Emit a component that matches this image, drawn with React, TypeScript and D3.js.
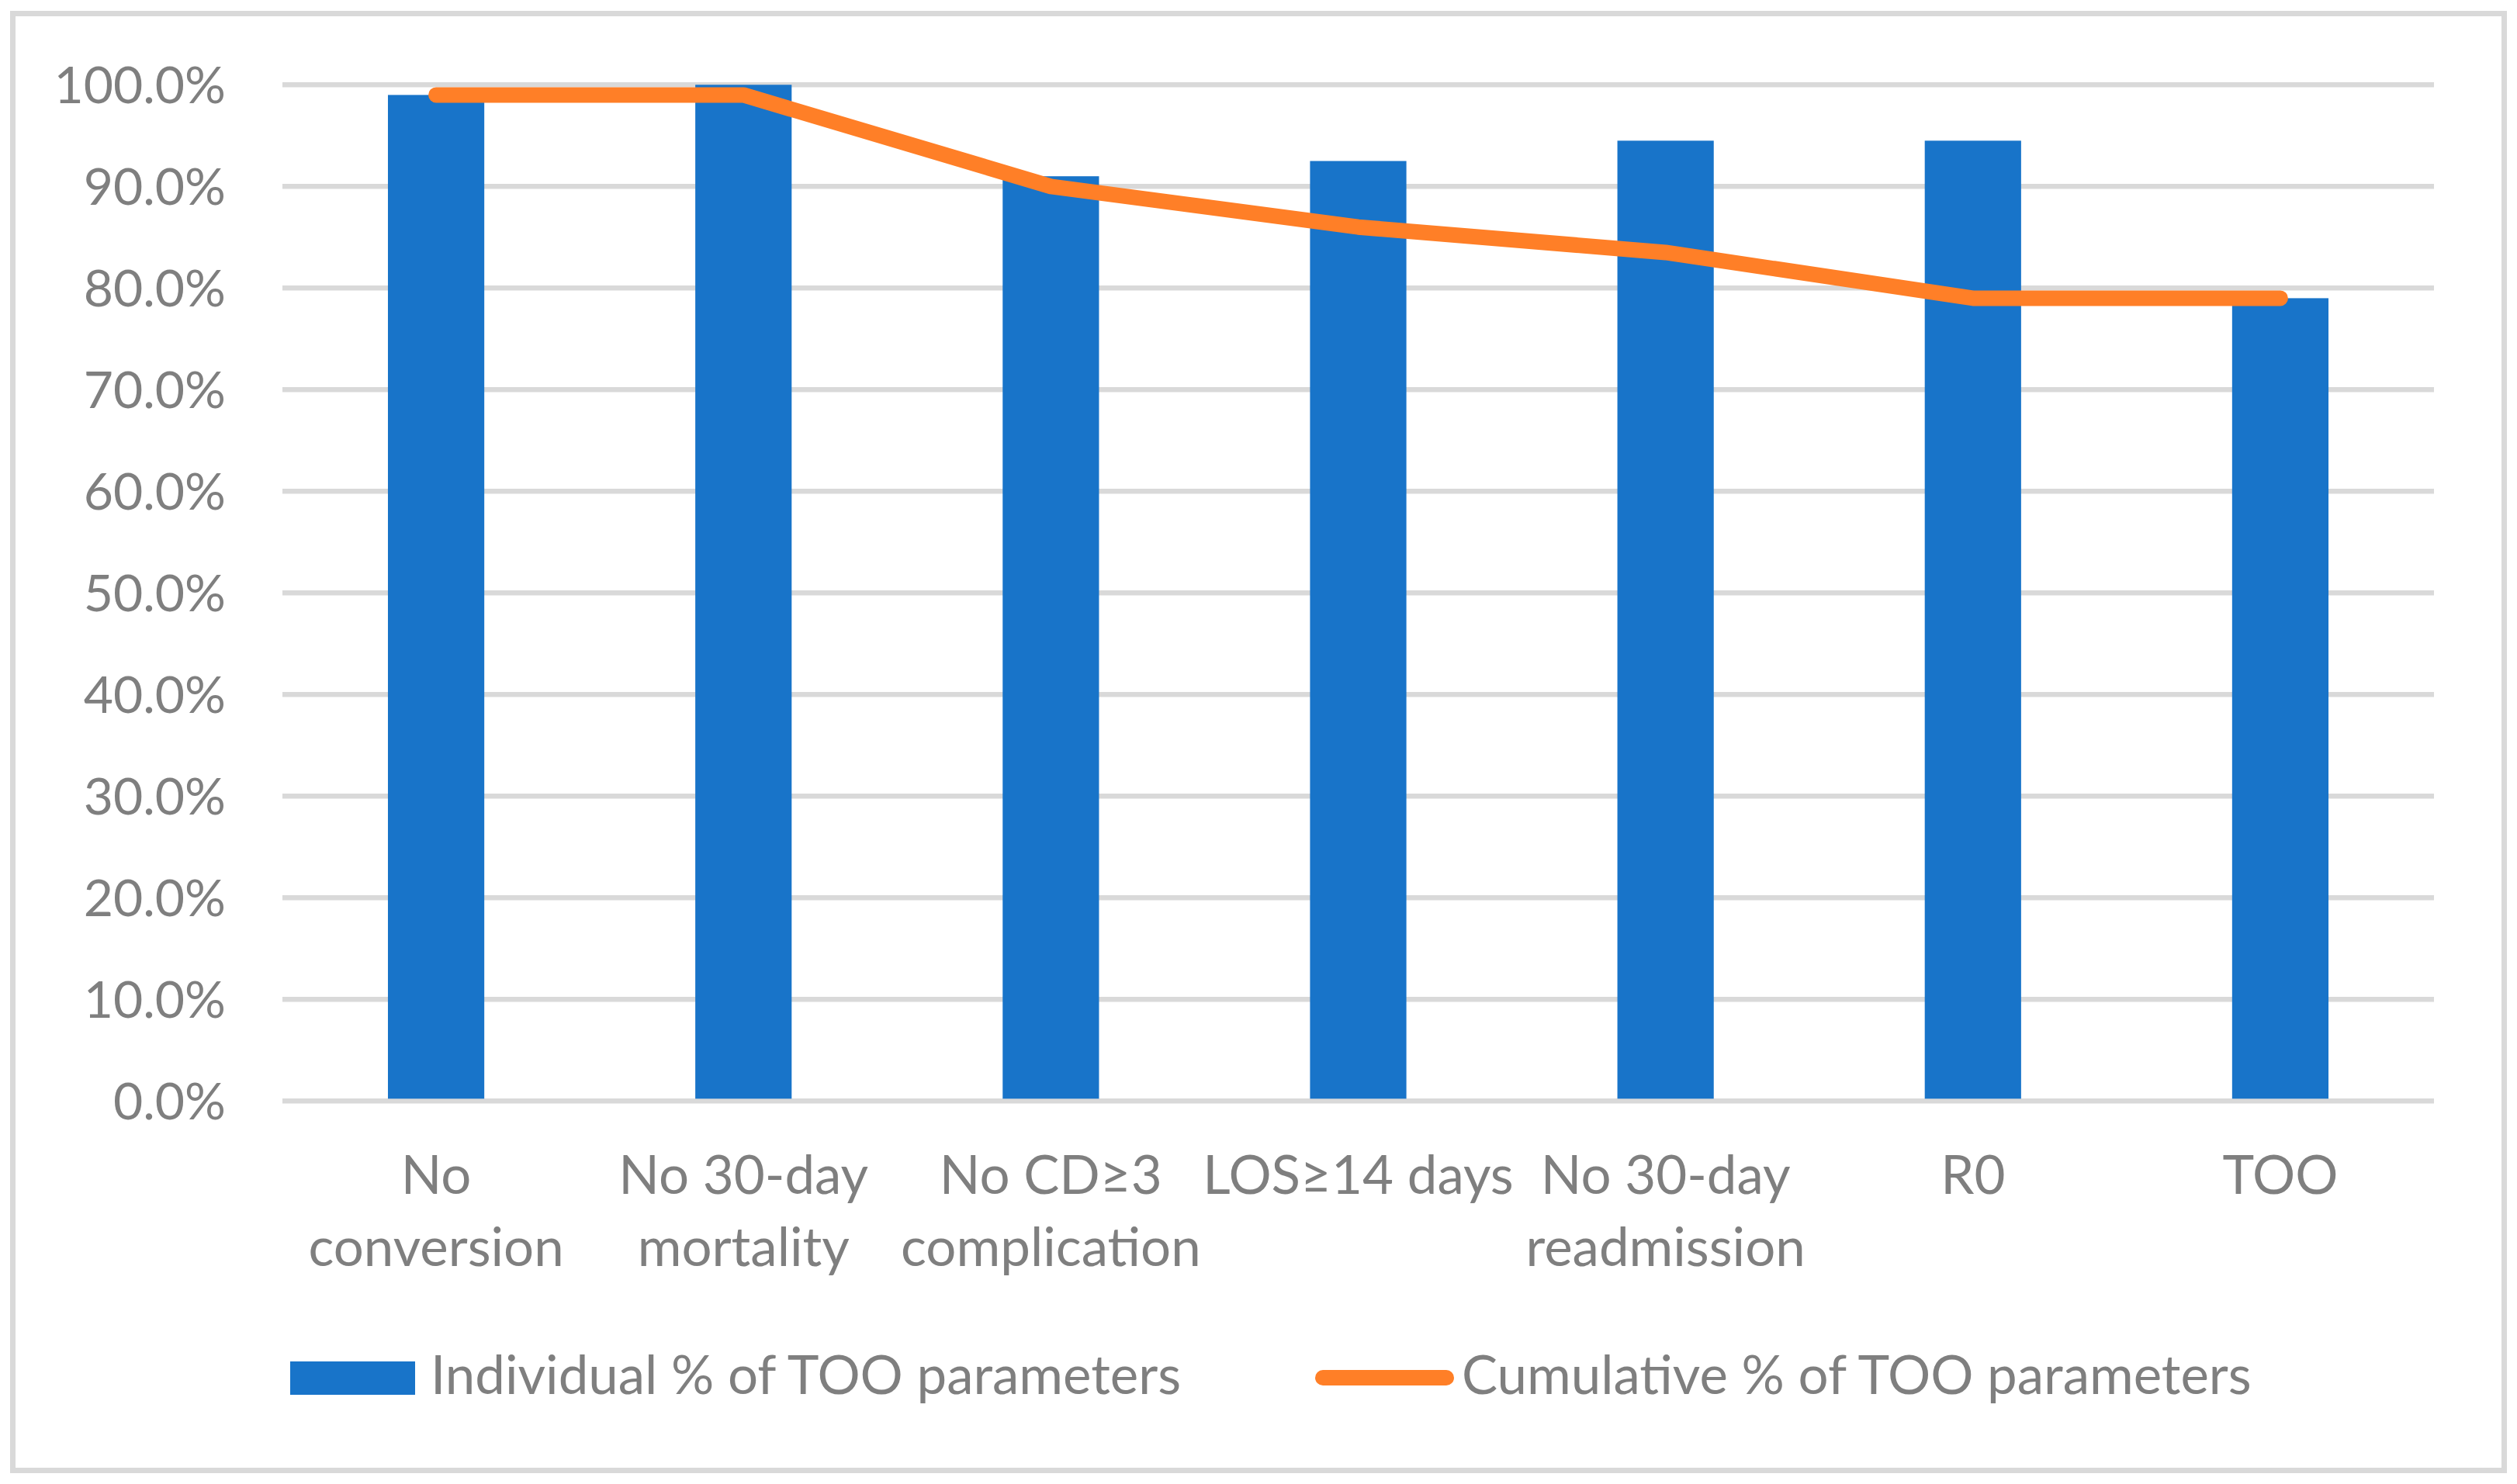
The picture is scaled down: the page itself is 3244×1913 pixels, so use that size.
import React from "react";
import * as d3 from "d3";

const categories = [
  "No conversion",
  "No 30-day mortality",
  "No CD≥3 complication",
  "LOS≥14 days",
  "No 30-day readmission",
  "R0",
  "TOO",
];
const categoryLines = [
  ["No", "conversion"],
  ["No 30-day", "mortality"],
  ["No CD≥3", "complication"],
  ["LOS≥14 days"],
  ["No 30-day", "readmission"],
  ["R0"],
  ["TOO"],
];
const individualPct = [99.0, 100.0, 91.0, 92.5, 94.5, 94.5, 79.0];
const cumulativePct = [99.0, 99.0, 90.0, 86.0, 83.5, 79.0, 79.0];
const yTicks = [0, 10, 20, 30, 40, 50, 60, 70, 80, 90, 100];
const seriesNames = ["Individual % of TOO parameters", "Cumulative % of TOO parameters"];

const W = 3244;
const H = 1913;
const FONT = "Lato, 'Open Sans', sans-serif";
const GRAY_TEXT = "#7F7F7F";
const GRID = "#D9D9D9";
const BLUE = "#1874C9";
const ORANGE = "#FF7F27";

export default function App() {
  const plotLeft = 364;
  const plotRight = 3137;
  const plotTop = 109.3;
  const plotBottom = 1419.3;

  const x = d3
    .scaleBand<string>()
    .domain(categories)
    .range([plotLeft, plotRight])
    .paddingInner(0)
    .paddingOuter(0);
  const band = x.bandwidth();
  const barW = band / 3.19;
  const cx = (c: string) => (x(c) as number) + band / 2;

  const y = d3.scaleLinear().domain([0, 100]).range([plotBottom, plotTop]);

  const linePath = d3
    .line<number>()
    .x((_, i) => cx(categories[i]))
    .y((d) => y(d))(cumulativePct);

  const fmt = (v: number) => v.toFixed(1) + "%";

  return (
    <svg
      width={W}
      height={H}
      style={{ position: "absolute", left: 0, top: 0, display: "block", background: "#fff" }}
    >
      <rect x={0} y={0} width={W} height={H} fill="#fff" />
      <rect x={16.5} y={17.5} width={3211} height={1878} fill="#fff" stroke={GRID} strokeWidth={7} />

      {/* gridlines */}
      {yTicks.map((t) => (
        <line
          key={"g" + t}
          x1={plotLeft}
          x2={plotRight}
          y1={y(t)}
          y2={y(t)}
          stroke={GRID}
          strokeWidth={6.5}
        />
      ))}

      {/* y tick labels */}
      {yTicks.map((t) => (
        <text
          key={"yl" + t}
          x={291}
          y={y(t)}
          dy="0.36em"
          textAnchor="end"
          fontFamily={FONT}
          fontSize={66}
          fill={GRAY_TEXT}
        >
          {fmt(t)}
        </text>
      ))}

      {/* bars */}
      {categories.map((c, i) => (
        <rect
          key={"b" + c}
          x={cx(c) - barW / 2}
          y={y(individualPct[i])}
          width={barW}
          height={y(0) - y(individualPct[i]) - 3}
          fill={BLUE}
        />
      ))}

      {/* line */}
      <path
        d={linePath || ""}
        fill="none"
        stroke={ORANGE}
        strokeWidth={20}
        strokeLinecap="round"
        strokeLinejoin="round"
      />

      {/* x labels */}
      {categories.map((c, i) => (
        <text
          key={"xl" + c}
          x={cx(c)}
          y={1539}
          textAnchor="middle"
          fontFamily={FONT}
          fontSize={69}
          fill={GRAY_TEXT}
        >
          {categoryLines[i].map((ln, j) => (
            <tspan key={j} x={cx(c)} y={1539 + j * 92.5}>
              {ln}
            </tspan>
          ))}
        </text>
      ))}

      {/* legend */}
      <rect x={374} y={1755} width={161} height={43} fill={BLUE} />
      <text x={555} y={1797} fontFamily={FONT} fontSize={69} fill={GRAY_TEXT}>
        {seriesNames[0]}
      </text>
      <line x1={1705} x2={1864} y1={1776} y2={1776} stroke={ORANGE} strokeWidth={20} strokeLinecap="round" />
      <text x={1884} y={1797} fontFamily={FONT} fontSize={69} fill={GRAY_TEXT}>
        {seriesNames[1]}
      </text>
    </svg>
  );
}
